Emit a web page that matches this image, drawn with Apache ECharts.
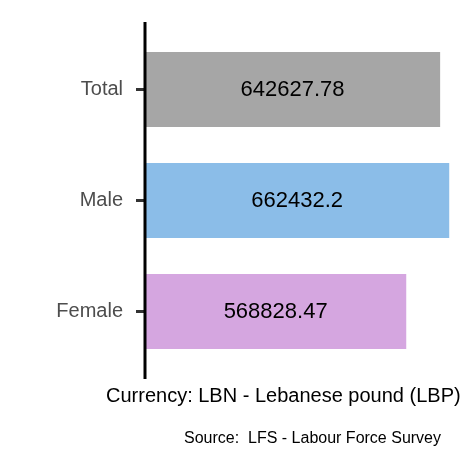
<!DOCTYPE html><html><head><meta charset="utf-8"><script src="https://cdn.jsdelivr.net/npm/echarts@6/dist/echarts.min.js"></script></head><body style="margin:0"><div id="c" style="width:472px;height:472px"></div><script>
const categories=['Female','Male','Total'];
const values=[568828.47,662432.2,642627.78];
const colors=['#d5a6e0','#8bbde8','#a6a6a6'];
const ch=echarts.init(document.getElementById('c'));
ch.setOption({
 animation:false,backgroundColor:'#fff',
 grid:{left:145,right:0,top:34,bottom:105},
 xAxis:{type:'value',min:0,max:712000,axisLine:{show:false},axisTick:{show:false},axisLabel:{show:false},splitLine:{show:false}},
 yAxis:{type:'category',data:categories,axisLine:{show:false},axisTick:{show:true,inside:false,alignWithLabel:true,length:9,lineStyle:{color:'#333',width:3}},axisLabel:{color:'#4d4d4d',fontSize:20,fontFamily:'Liberation Sans',margin:22}},
 series:[{type:'bar',barCategoryGap:'32.5%',data:values.map((v,i)=>({value:v,itemStyle:{color:colors[i]}})),label:{show:true,position:'inside',color:'#000',fontSize:22,fontFamily:'Liberation Sans',formatter:p=>String(p.value)}}],
 graphic:[
  {type:'line',shape:{x1:145,y1:22,x2:145,y2:379},style:{stroke:'#000',lineWidth:3},z:10},
  {type:'text',left:106,top:386,style:{text:'Currency: LBN - Lebanese pound (LBP)',fontSize:20,fontFamily:'Liberation Sans',fill:'#000'}},
  {type:'text',left:184,top:431,style:{text:'Source:  LFS - Labour Force Survey',fontSize:16,fontFamily:'Liberation Sans',fill:'#000'}}
 ]
});
</script></body></html>
